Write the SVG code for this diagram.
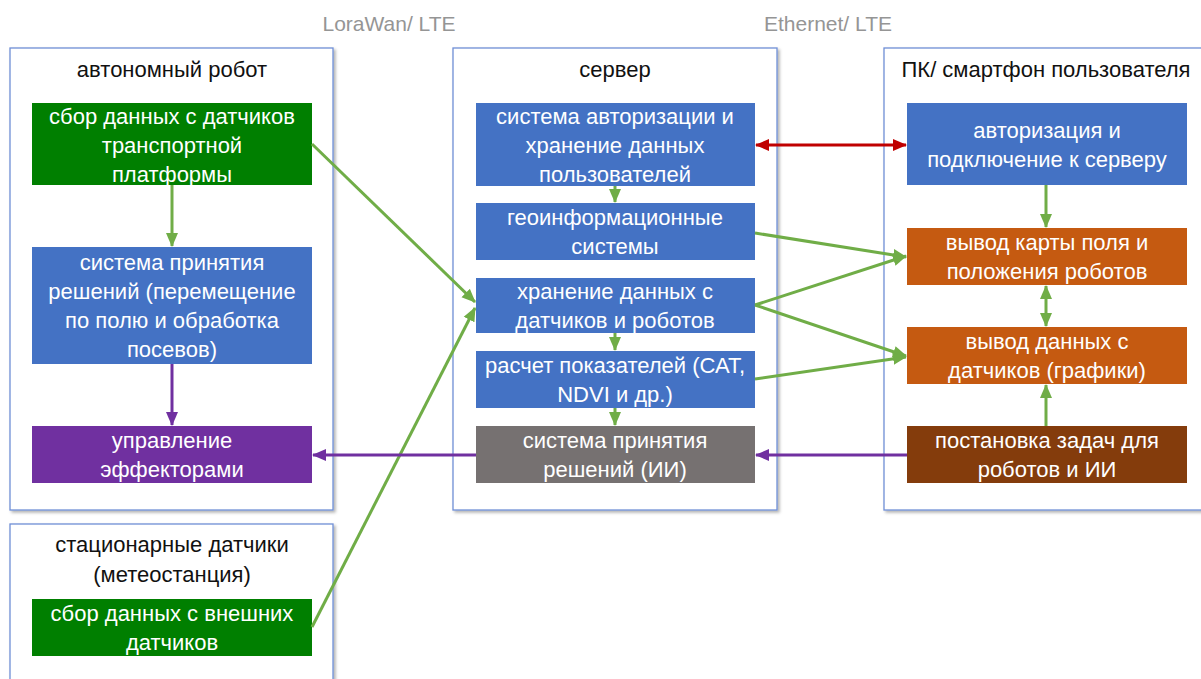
<svg xmlns="http://www.w3.org/2000/svg" width="1201" height="679" viewBox="0 0 1201 679">
<style>
.cont{fill:#fff;stroke:#6f8fd6;stroke-width:1.3}
.t{font-family:"Liberation Sans",Arial,sans-serif;font-size:22px;text-anchor:middle}
.lbl{font-size:21px}
.w{fill:#fff}
.k{fill:#111}
.g{fill:#959595}
.lg{stroke:#70ad47;stroke-width:3;fill:none}
.lp{stroke:#7030a0;stroke-width:3;fill:none}
.lr{stroke:#c00000;stroke-width:3;fill:none}
</style>
<defs>
<filter id="sh" x="-5%" y="-5%" width="110%" height="110%">
<feDropShadow dx="2" dy="2" stdDeviation="1.5" flood-color="#000" flood-opacity="0.3"/>
</filter>
<marker id="ag" markerUnits="userSpaceOnUse" markerWidth="14" markerHeight="14" viewBox="0 0 14 14" refX="13" refY="7" orient="auto-start-reverse"><path d="M0,1 L14,7 L0,13 Z" fill="#70ad47"/></marker>
<marker id="ap" markerUnits="userSpaceOnUse" markerWidth="14" markerHeight="14" viewBox="0 0 14 14" refX="13" refY="7" orient="auto-start-reverse"><path d="M0,1 L14,7 L0,13 Z" fill="#7030a0"/></marker>
<marker id="ar" markerUnits="userSpaceOnUse" markerWidth="14" markerHeight="14" viewBox="0 0 14 14" refX="13" refY="7" orient="auto-start-reverse"><path d="M0,1 L14,7 L0,13 Z" fill="#c00000"/></marker>
</defs>
<rect width="1201" height="679" fill="#fff"/>
<text class="t lbl g" x="389" y="31">LoraWan/ LTE</text>
<text class="t lbl g" x="828" y="31">Ethernet/ LTE</text>

<g id="robot">
<rect class="cont" x="10" y="48" width="323" height="462" filter="url(#sh)"/>
<text class="t k" x="172" y="77">автономный робот</text>
</g>
<g id="stationary">
<rect class="cont" x="10" y="524" width="323" height="170" filter="url(#sh)"/>
<text class="t k" x="172" y="552">стационарные датчики</text>
<text class="t k" x="172" y="582">(метеостанция)</text>
</g>
<g id="server">
<rect class="cont" x="453" y="48" width="324" height="462" filter="url(#sh)"/>
<text class="t k" x="615" y="77">сервер</text>
</g>
<g id="pc">
<rect class="cont" x="884" y="48" width="330" height="462" filter="url(#sh)"/>
<text class="t k" x="1046" y="77">ПК/ смартфон пользователя</text>
</g>

<g id="n_robot_sensors">
<rect x="32" y="103" width="280" height="82" fill="#007f00"/>
<text class="t w" x="172" y="124">сбор данных с датчиков</text>
<text class="t w" x="172" y="153">транспортной</text>
<text class="t w" x="172" y="182">платформы</text>
</g>
<g id="n_robot_decision">
<rect x="32" y="247" width="280" height="117" fill="#4472c4"/>
<text class="t w" x="172" y="270">система принятия</text>
<text class="t w" x="172" y="299">решений (перемещение</text>
<text class="t w" x="172" y="328">по полю и обработка</text>
<text class="t w" x="172" y="357">посевов)</text>
</g>
<g id="n_effectors">
<rect x="32" y="426" width="280" height="57" fill="#7030a0"/>
<text class="t w" x="172" y="448">управление</text>
<text class="t w" x="172" y="477">эффекторами</text>
</g>
<g id="n_ext_sensors">
<rect x="32" y="599" width="280" height="57" fill="#007f00"/>
<text class="t w" x="172" y="621">сбор данных с внешних</text>
<text class="t w" x="172" y="650">датчиков</text>
</g>

<g id="n_auth_srv">
<rect x="476" y="103" width="279" height="83" fill="#4472c4"/>
<text class="t w" x="615" y="124">система авторизации и</text>
<text class="t w" x="615" y="153">хранение данных</text>
<text class="t w" x="615" y="182">пользователей</text>
</g>
<g id="n_gis">
<rect x="476" y="203" width="279" height="57" fill="#4472c4"/>
<text class="t w" x="615" y="225">геоинформационные</text>
<text class="t w" x="615" y="254">системы</text>
</g>
<g id="n_storage">
<rect x="476" y="278" width="279" height="55" fill="#4472c4"/>
<text class="t w" x="615" y="299">хранение данных с</text>
<text class="t w" x="615" y="328">датчиков и роботов</text>
</g>
<g id="n_calc">
<rect x="476" y="351" width="279" height="57" fill="#4472c4"/>
<text class="t w" x="615" y="373">расчет показателей (САТ,</text>
<text class="t w" x="615" y="402">NDVI и др.)</text>
</g>
<g id="n_ai">
<rect x="476" y="426" width="279" height="57" fill="#767171"/>
<text class="t w" x="615" y="448">система принятия</text>
<text class="t w" x="615" y="477">решений (ИИ)</text>
</g>

<g id="n_auth_pc">
<rect x="907" y="103" width="280" height="82" fill="#4472c4"/>
<text class="t w" x="1047" y="138">авторизация и</text>
<text class="t w" x="1047" y="167">подключение к серверу</text>
</g>
<g id="n_map">
<rect x="907" y="228" width="280" height="57" fill="#c55a11"/>
<text class="t w" x="1047" y="250">вывод карты поля и</text>
<text class="t w" x="1047" y="279">положения роботов</text>
</g>
<g id="n_data">
<rect x="907" y="327" width="280" height="57" fill="#c55a11"/>
<text class="t w" x="1047" y="349">вывод данных с</text>
<text class="t w" x="1047" y="378">датчиков (графики)</text>
</g>
<g id="n_tasks">
<rect x="907" y="426" width="280" height="57" fill="#843c0c"/>
<text class="t w" x="1047" y="448">постановка задач для</text>
<text class="t w" x="1047" y="477">роботов и ИИ</text>
</g>

<g id="connectors">
<line class="lg" x1="172" y1="185" x2="172" y2="246" marker-end="url(#ag)"/>
<line class="lp" x1="172" y1="364" x2="172" y2="425" marker-end="url(#ap)"/>
<line class="lg" x1="312" y1="144" x2="475" y2="302" marker-end="url(#ag)"/>
<line class="lg" x1="312" y1="627" x2="475" y2="308" marker-end="url(#ag)"/>
<line class="lp" x1="476" y1="455" x2="313" y2="455" marker-end="url(#ap)"/>
<line class="lp" x1="907" y1="455" x2="756" y2="455" marker-end="url(#ap)"/>
<line class="lr" x1="756" y1="145" x2="906" y2="145" marker-start="url(#ar)" marker-end="url(#ar)"/>
<line class="lg" x1="615" y1="186" x2="615" y2="202" marker-end="url(#ag)"/>
<line class="lg" x1="615" y1="333" x2="615" y2="350" marker-end="url(#ag)"/>
<line class="lg" x1="615" y1="408" x2="615" y2="425" marker-end="url(#ag)"/>
<line class="lg" x1="755" y1="233" x2="906" y2="257" marker-end="url(#ag)"/>
<line class="lg" x1="755" y1="305" x2="906" y2="256" marker-end="url(#ag)"/>
<line class="lg" x1="755" y1="305" x2="906" y2="356" marker-end="url(#ag)"/>
<line class="lg" x1="755" y1="379" x2="906" y2="357" marker-end="url(#ag)"/>
<line class="lg" x1="1046" y1="185" x2="1046" y2="227" marker-end="url(#ag)"/>
<line class="lg" x1="1046" y1="286" x2="1046" y2="326" marker-start="url(#ag)" marker-end="url(#ag)"/>
<line class="lg" x1="1046" y1="426" x2="1046" y2="385" marker-end="url(#ag)"/>
</g>
</svg>
